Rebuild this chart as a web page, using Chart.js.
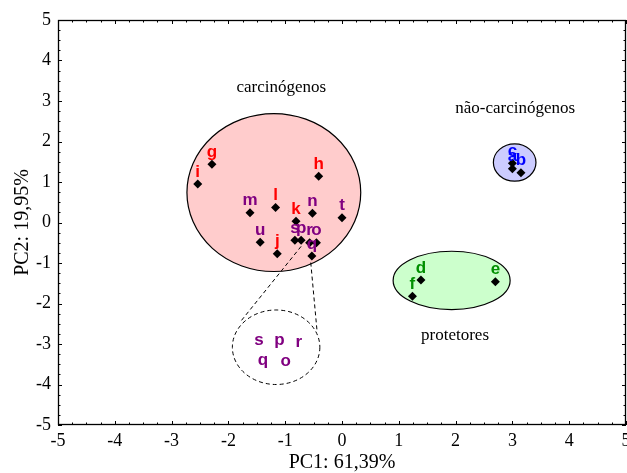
<!DOCTYPE html>
<html>
<head>
<meta charset="utf-8">
<script src="https://cdn.jsdelivr.net/npm/chart.js@4/dist/chart.umd.min.js"></script>
<style>
  html, body { margin: 0; padding: 0; background: #fff; overflow: hidden; }
  #wrap { position: relative; width: 640px; height: 473px; }
</style>
</head>
<body>
<div id="wrap"><canvas id="c"></canvas></div>
<script>
// ---- data ----
const sampleLabels = ['a','b','c','d','e','f','g','h','i','j','k','l','m','n','o','p','q','r','s','t','u'];
const pc1Scores    = [3.00, 3.15, 3.00, 1.39, 2.70, 1.24, -2.29, -0.41, -2.54, -1.14, -0.81, -1.17, -1.62, -0.52, -0.45, -0.72, -0.53, -0.57, -0.83, 0.00, -1.44];
const pc2Scores    = [1.33, 1.23, 1.46, -1.42, -1.46, -1.82, 1.44, 1.14, 0.95, -0.77, 0.03, 0.37, 0.24, 0.23, -0.50, -0.44, -0.83, -0.50, -0.44, 0.12, -0.49];
const sampleGroups = ['nc','nc','nc','pr','pr','pr','ca','ca','ca','ca','ca','ca','mx','mx','mx','mx','mx','mx','mx','mx','mx'];
const xTickValues  = [-5,-4,-3,-2,-1,0,1,2,3,4,5];
const yTickValues  = [-5,-4,-3,-2,-1,0,1,2,3,4,5];
const axisTitles   = ['PC1: 61,39%', 'PC2: 19,95%'];
// group ellipses: [centerPC1, centerPC2, radiusPC1, radiusPC2]
const groupNames   = ['carcinógenos', 'não-carcinógenos', 'protetores'];
const groupEllipses = [[-1.20, 0.74, 1.53, 1.95], [3.04, 1.48, 0.375, 0.46], [1.93, -1.43, 1.03, 0.72]];
const groupTextAt  = [[-1.07, 3.33], [3.05, 2.81], [1.99, -2.79]];
// zoom-in inset (dashed) of the overlapping samples
const insetEllipse = [-1.16, -3.08, 0.77, 0.92];
const insetLabels  = ['s','p','r','q','o'];
const insetPC1     = [-1.46, -1.10, -0.76, -1.39, -0.99];
const insetPC2     = [-2.91, -2.92, -2.97, -3.41, -3.42];
const insetLines   = [[-0.72, -0.59, -1.80, -2.47], [-0.55, -0.99, -0.44, -2.67]];

// ---- styles ----
const groupColor = { ca: '#ff0000', mx: '#800080', nc: '#0000ff', pr: '#009000' };
const ellipseFill = ['#ffcccc', '#ccccff', '#ccffcc'];
const serif = '"Liberation Serif", "Times New Roman", serif';
const sans = '"Liberation Sans", Arial, sans-serif';

const points = pc1Scores.map((x, i) => ({ x: x, y: pc2Scores[i] }));

const overlay = {
  id: 'overlay',
  beforeDatasetsDraw(chart) {
    const { ctx, scales: { x, y }, chartArea: a } = chart;
    const ell = (e) => {
      const cx = x.getPixelForValue(e[0]), cy = y.getPixelForValue(e[1]);
      const rx = Math.abs(x.getPixelForValue(e[0] + e[2]) - cx);
      const ry = Math.abs(y.getPixelForValue(e[1] + e[3]) - cy);
      ctx.beginPath();
      ctx.ellipse(cx, cy, rx, ry, 0, 0, Math.PI * 2);
    };
    ctx.save();
    ctx.beginPath(); ctx.rect(a.left, a.top, a.right - a.left, a.bottom - a.top); ctx.clip();
    groupEllipses.forEach((e, i) => {
      ell(e);
      ctx.fillStyle = ellipseFill[i]; ctx.fill();
      ctx.lineWidth = 1.2; ctx.strokeStyle = '#000'; ctx.stroke();
    });
    ctx.setLineDash([4, 3]);
    ctx.lineWidth = 1; ctx.strokeStyle = '#000';
    ell(insetEllipse); ctx.stroke();
    insetLines.forEach(l => {
      ctx.beginPath();
      ctx.moveTo(x.getPixelForValue(l[0]), y.getPixelForValue(l[1]));
      ctx.lineTo(x.getPixelForValue(l[2]), y.getPixelForValue(l[3]));
      ctx.stroke();
    });
    ctx.setLineDash([]);
    // group names
    ctx.fillStyle = '#000';
    ctx.font = '17px ' + serif;
    ctx.textAlign = 'center'; ctx.textBaseline = 'middle';
    groupNames.forEach((n, i) => {
      ctx.fillText(n, x.getPixelForValue(groupTextAt[i][0]), y.getPixelForValue(groupTextAt[i][1]));
    });
    ctx.restore();
  },
  afterDatasetsDraw(chart) {
    const { ctx, scales: { x, y } } = chart;
    ctx.save();
    ctx.font = 'bold 17px ' + sans;
    ctx.textAlign = 'center'; ctx.textBaseline = 'middle';
    sampleLabels.forEach((lab, i) => {
      ctx.fillStyle = groupColor[sampleGroups[i]];
      ctx.fillText(lab, x.getPixelForValue(pc1Scores[i]), y.getPixelForValue(pc2Scores[i]) - 12);
    });
    ctx.fillStyle = groupColor.mx;
    insetLabels.forEach((lab, i) => {
      ctx.fillText(lab, x.getPixelForValue(insetPC1[i]), y.getPixelForValue(insetPC2[i]));
    });
    ctx.restore();
  },
  afterDraw(chart) {
    const { ctx, scales: { x, y }, chartArea: a } = chart;
    ctx.save();
    ctx.strokeStyle = '#000'; ctx.lineWidth = 1.3;
    ctx.strokeRect(a.left + 0.5, a.top + 0.5, a.right - a.left - 1, a.bottom - a.top - 1);
    ctx.lineWidth = 1;
    ctx.beginPath();
    for (let v = x.min; v <= x.max + 1e-9; v += 0.25) {
      const px = Math.round(x.getPixelForValue(v)) + 0.5;
      const len = Math.abs(v - Math.round(v)) < 1e-9 ? 4 : 2.5;
      ctx.moveTo(px, a.bottom); ctx.lineTo(px, a.bottom - len);
      ctx.moveTo(px, a.top); ctx.lineTo(px, a.top + len);
    }
    for (let v = y.min; v <= y.max + 1e-9; v += 0.25) {
      const py = Math.round(y.getPixelForValue(v)) + 0.5;
      const len = Math.abs(v - Math.round(v)) < 1e-9 ? 4 : 2.5;
      ctx.moveTo(a.left, py); ctx.lineTo(a.left + len, py);
      ctx.moveTo(a.right, py); ctx.lineTo(a.right - len, py);
    }
    ctx.stroke();
    ctx.restore();
  }
};

new Chart(document.getElementById('c'), {
  type: 'scatter',
  data: {
    datasets: [{
      data: points,
      pointStyle: 'rectRot',
      pointRadius: 4.5,
      pointHoverRadius: 4.5,
      backgroundColor: '#000',
      borderColor: '#000',
      borderWidth: 0
    }]
  },
  options: {
    responsive: true,
    maintainAspectRatio: false,
    animation: false,
    events: [],
    layout: { padding: { top: 20, right: 14, left: 0, bottom: 0 } },
    plugins: { legend: { display: false }, tooltip: { enabled: false } },
    scales: {
      x: {
        type: 'linear', min: -5, max: 5,
        grid: { display: false, drawTicks: false },
        border: { display: false },
        afterBuildTicks: s => { s.ticks = xTickValues.map(v => ({ value: v })); },
        ticks: { color: '#000', font: { family: serif, size: 18 }, padding: 5, maxRotation: 0, autoSkip: false },
        title: { display: true, text: axisTitles[0], color: '#000', font: { family: serif, size: 20, lineHeight: 1 }, padding: { top: 0, bottom: 0 } },
        afterFit: s => { s.height = 48; }
      },
      y: {
        type: 'linear', min: -5, max: 5,
        grid: { display: false, drawTicks: false },
        border: { display: false },
        afterBuildTicks: s => { s.ticks = yTickValues.map(v => ({ value: v })); },
        ticks: { color: '#000', font: { family: serif, size: 18 }, padding: 7, autoSkip: false },
        title: { display: true, text: axisTitles[1], color: '#000', font: { family: serif, size: 20, lineHeight: 1 }, padding: { top: 13, bottom: 0 } },
        afterFit: s => { s.width = 58; }
      }
    }
  },
  plugins: [overlay]
});
</script>
</body>
</html>
